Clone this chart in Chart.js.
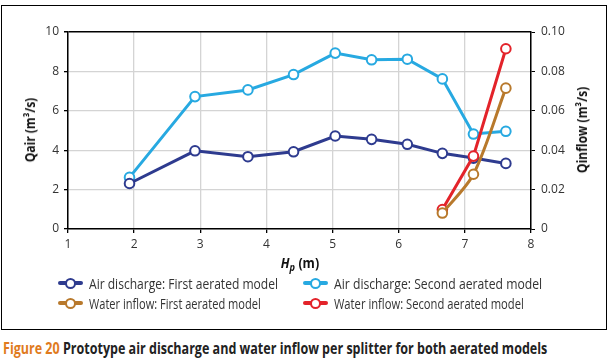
<!DOCTYPE html>
<html>
<head>
<meta charset="utf-8">
<script src="https://cdn.jsdelivr.net/npm/chart.js@4.4.1/dist/chart.umd.min.js"></script>
<style>
  body { margin: 0; background: #fff; }
  #wrap { position: relative; width: 612px; height: 360px; overflow: hidden; font-family: 'Open Sans', sans-serif; }
  #frame { position: absolute; left: 1px; top: 5px; width: 604px; height: 323px; border: 1.5px solid #000; }
  #cv { position: absolute; left: 0; top: 0; }
  .ytitle { position: absolute; font-weight: bold; font-size: 13.5px; color: #111; white-space: nowrap; }
  #xtitle { position: absolute; left: 300px; top: 264px; font-weight: bold; font-size: 13.5px; color: #111; white-space: nowrap; }
  .leg { position: absolute; font-size: 15px; color: #333; white-space: nowrap; display: flex; align-items: center; }
  .leg .tx { display: inline-block; transform-origin: left center; }
  .mk { position: relative; width: 25px; height: 10px; margin-right: 6px; flex: none; }
  .mk .ln { position: absolute; left: 0; top: 3px; width: 25px; height: 4px; border-radius: 2px; }
  .mk .dot { position: absolute; left: 7px; top: 0; width: 7px; height: 7px; border-radius: 50%; background: #fff; border: 2px solid; }
  #caption { position: absolute; left: 3px; top: 348px; font-weight: bold; font-size: 15.5px; color: #222; white-space: nowrap; transform-origin: left center; }
  #caption span { color: #e07b1e; }
</style>
</head>
<body>
<div id="wrap">
  <div id="frame"></div>
  <canvas id="cv" width="612" height="260"></canvas>
  <div class="ytitle" id="ytl" style="left:30px; top:130px;">Qair (m³/s)</div>
  <div class="ytitle" id="ytr" style="left:582px; top:130px;">Qinflow (m³/s)</div>
  <div id="xtitle"><i>H<sub style="font-size:10px">p</sub></i> (m)</div>
  <div id="legend"></div>
  <div id="caption"><span>Figure 20</span> Prototype air discharge and water inflow per splitter for both aerated models</div>
</div>
<script>
// Hp (m) positions
const hpAir = [1.93, 2.92, 3.72, 4.41, 5.04, 5.59, 6.13, 6.66, 7.13, 7.62];
const hpWater = [6.66, 7.13, 7.62];

// Air discharge (m3/s)
const airFirst = [2.31, 3.97, 3.67, 3.92, 4.72, 4.55, 4.30, 3.84, 3.60, 3.33];
const airSecond = [2.62, 6.72, 7.06, 7.84, 8.93, 8.59, 8.62, 7.62, 4.82, 4.96];

// Water inflow (m3/s)
const waterFirst = [0.0081, 0.0278, 0.0715];
const waterSecond = [0.0099, 0.0370, 0.0915];

const seriesNames = [
    'Air discharge: First aerated model',
    'Air discharge: Second aerated model',
    'Water inflow: First aerated model',
    'Water inflow: Second aerated model'
];
const seriesColors = ['#2e3b8f', '#27a9e1', '#b8792c', '#e3232a'];

const xTicks = [1, 2, 3, 4, 5, 6, 7, 8];

const pts = (xs, ys) => xs.map((x, i) => ({ x: x, y: ys[i] }));

function makeSet(i, xs, ys, axis, order, tension) {
    return {
        label: seriesNames[i],
        data: pts(xs, ys),
        yAxisID: axis,
        borderColor: seriesColors[i],
        backgroundColor: '#fff',
        pointBackgroundColor: '#fff',
        pointBorderColor: seriesColors[i],
        pointBorderWidth: 2,
        pointRadius: 4.8,
        borderWidth: 3,
        tension: tension,
        order: order
    };
}

const tickFont = { family: "'Open Sans', sans-serif", size: 12 };

new Chart(document.getElementById('cv'), {
    type: 'line',
    data: {
        datasets: [
            makeSet(0, hpAir, airFirst, 'y', 2, 0),
            makeSet(1, hpAir, airSecond, 'y', 3, 0),
            makeSet(2, hpWater, waterFirst, 'y1', 0, 0.3),
            makeSet(3, hpWater, waterSecond, 'y1', 1, 0)
        ]
    },
    options: {
        responsive: false,
        animation: false,
        layout: { padding: { top: 32, left: 0, right: 0, bottom: 0 } },
        plugins: { legend: { display: false }, tooltip: { enabled: false } },
        scales: {
            x: {
                type: 'linear',
                min: 1, max: 8,
                afterBuildTicks: s => { s.ticks = xTicks.map(v => ({ value: v })); },
                afterFit: s => { s.height = 31; },
                ticks: { color: '#333', font: tickFont, padding: 4 },
                grid: { color: '#d4d4d4', lineWidth: 1.3, tickColor: '#000', tickLength: 4 },
                border: { color: '#000', width: 1.5 }
            },
            y: {
                position: 'left',
                min: 0, max: 10,
                ticks: { stepSize: 2, color: '#333', font: tickFont, padding: 5 },
                afterFit: s => { s.width = 68; },
                grid: {
                    color: c => c.tick && c.tick.value === 10 ? '#000' : '#d4d4d4',
                    lineWidth: c => c.tick && c.tick.value === 10 ? 1.5 : 1.3,
                    tickColor: '#000', tickLength: 4
                },
                border: { color: '#000', width: 1.5 }
            },
            y1: {
                position: 'right',
                min: 0, max: 0.1,
                ticks: {
                    stepSize: 0.02, color: '#333', font: tickFont, padding: 6,
                    callback: v => v === 0 ? '0' : v.toFixed(2)
                },
                afterFit: s => { s.width = 81; },
                grid: { drawOnChartArea: false, tickColor: '#000', tickLength: 4 },
                border: { color: '#000', width: 1.5 }
            }
        }
    }
});

// legend, two columns
const legPos = [[58, 284], [303, 284], [58, 304], [303, 304]];
const legWidth = [189, 208, 172, 190];
const legend = document.getElementById('legend');
seriesNames.forEach((name, i) => {
    const el = document.createElement('div');
    el.className = 'leg';
    el.style.left = legPos[i][0] + 'px';
    el.style.top = (legPos[i][1] - 11) + 'px';
    el.innerHTML = `<div class="mk"><div class="ln" style="background:${seriesColors[i]}"></div>` +
        `<div class="dot" style="border-color:${seriesColors[i]}"></div></div><span class="tx">${name}</span>`;
    legend.appendChild(el);
    const tx = el.querySelector('.tx');
    tx.style.transform = `scaleX(${legWidth[i] / tx.offsetWidth})`;
});

// squeeze titles to the narrow face of the original
function fitCentered(el, w, rot) {
    const k = w / el.offsetWidth;
    el.style.transform = `translate(-50%, -50%)${rot ? ' rotate(-90deg)' : ''} scaleX(${k})`;
}
fitCentered(document.getElementById('ytl'), 64, true);
fitCentered(document.getElementById('ytr'), 86, true);
fitCentered(document.getElementById('xtitle'), 38, false);
const cap = document.getElementById('caption');
cap.style.transform = `translateY(-50%) scaleX(${544 / cap.offsetWidth})`;
</script>
</body>
</html>
